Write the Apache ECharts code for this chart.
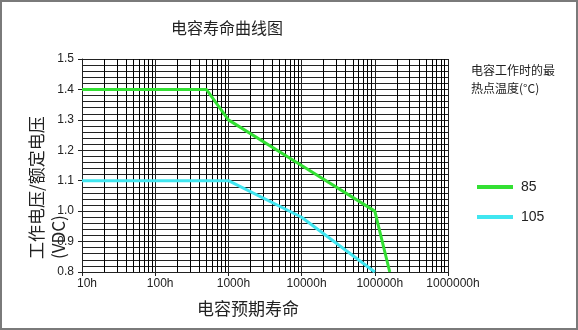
<!DOCTYPE html>
<html><head><meta charset="utf-8">
<script src="https://cdn.jsdelivr.net/npm/echarts@6/dist/echarts.min.js"></script>
<style>html,body{margin:0;padding:0;background:#fff}#c{width:578px;height:330px}</style>
</head><body><div id="c"></div>
<script>
// ---- data ----
const chartTitle = '电容寿命曲线图';
const xName = '电容预期寿命';
const yName = '工作电压/额定电压\n(VDC)';
const legendTitle = '电容工作时的最\n热点温度(°C)';
const seriesNames = ['85', '105'];
const hours85 = [10, 500, 1000, 10000, 100000, 160000];
const volt85  = [1.4, 1.4, 1.3, 1.15, 1.0, 0.8];
const hours105 = [10, 1000, 10000, 100000];
const volt105  = [1.1, 1.1, 0.98, 0.8];
const xMin = 10, xMax = 1000000;
const yMin = 0.8, yMax = 1.5, yStep = 0.1;
const minorMultipliers = [2, 3, 4, 5, 6, 7, 8, 9];

// minor log grid positions (axis structure, not data)
const minorX = [];
for (let d = xMin; d < xMax; d *= 10) minorMultipliers.forEach(m => minorX.push(m * d));

const chart = echarts.init(document.getElementById('c'), null, {renderer: 'canvas'});
const font = '"Liberation Sans", Arial, sans-serif';
const cjk = '"Noto Sans CJK SC", sans-serif';
const gridColor = '#222';

chart.setOption({
  animation: false,
  backgroundColor: '#fff',
  title: [
    {text: chartTitle, left: 222, top: 15, textAlign: 'center',
     textStyle: {fontFamily: cjk, fontSize: 16, fontWeight: 'normal', color: '#222'}},
    {text: legendTitle, left: 466, top: 56,
     textStyle: {fontFamily: cjk, fontSize: 12, fontWeight: 'normal', color: '#222', lineHeight: 18}}
  ],
  legend: {
    data: seriesNames, orient: 'vertical', left: 472, top: 175,
    icon: 'rect', itemWidth: 36, itemHeight: 4, itemGap: 16,
    textStyle: {fontFamily: font, fontSize: 14, color: '#222', padding: [0, 0, 0, 3]}
  },
  grid: {left: 82, top: 59, width: 366, height: 213, containLabel: false},
  xAxis: {
    type: 'log', logBase: 10, min: xMin, max: xMax, splitNumber: 5,
    name: xName, nameLocation: 'middle', nameGap: 28,
    nameTextStyle: {fontFamily: cjk, fontSize: 17, color: '#222', padding: [0, 34, 0, 0]},
    axisLine: {show: true, lineStyle: {color: '#222', width: 1}},
    axisTick: {show: true, length: 4, lineStyle: {color: '#222'}},
    axisLabel: {fontFamily: font, fontSize: 12, color: '#222', margin: 6,
      padding: [0, 0, 0, 10], formatter: v => v + 'h'},
    splitLine: {show: true, lineStyle: {color: gridColor, width: 1}}
  },
  yAxis: {
    type: 'value', min: yMin, max: yMax, interval: yStep,
    axisLine: {show: true, lineStyle: {color: '#222', width: 1}},
    axisTick: {show: true, length: 4, lineStyle: {color: '#222'}},
    axisLabel: {fontFamily: font, fontSize: 12, color: '#222', margin: 8,
      formatter: v => v.toFixed(1)},
    splitLine: {show: true, lineStyle: {color: gridColor, width: 1}},
    minorTick: {show: false, splitNumber: 5},
    minorSplitLine: {show: true, lineStyle: {color: gridColor, width: 1}}
  },
  graphic: [
    {type: 'text', x: 26, y: 259, rotation: Math.PI / 2,
     style: {text: yName, fontFamily: cjk, fontSize: 17, fill: '#222',
       align: 'left', verticalAlign: 'top', lineHeight: 22}},
    {type: 'rect', shape: {x: 1, y: 1, width: 576, height: 328}, silent: true,
     style: {fill: 'none', stroke: '#7a7a7a', lineWidth: 2}}
  ],
  series: [
    {name: 'grid', type: 'line', data: [], z: 1, silent: true,
     markLine: {silent: true, symbol: ['none', 'none'], label: {show: false},
       emphasis: {disabled: true},
       lineStyle: {color: '#000', type: 'solid', width: 1},
       data: minorX.map(v => ({xAxis: v}))}},
    {name: seriesNames[0], type: 'line', z: 5, symbol: 'none',
     data: hours85.map((h, i) => [h, volt85[i]]),
     itemStyle: {color: '#33e033'}, lineStyle: {color: '#33e033', width: 3}},
    {name: seriesNames[1], type: 'line', z: 5, symbol: 'none',
     data: hours105.map((h, i) => [h, volt105[i]]),
     itemStyle: {color: '#40e6f0'}, lineStyle: {color: '#40e6f0', width: 3}}
  ]
});
</script></body></html>
